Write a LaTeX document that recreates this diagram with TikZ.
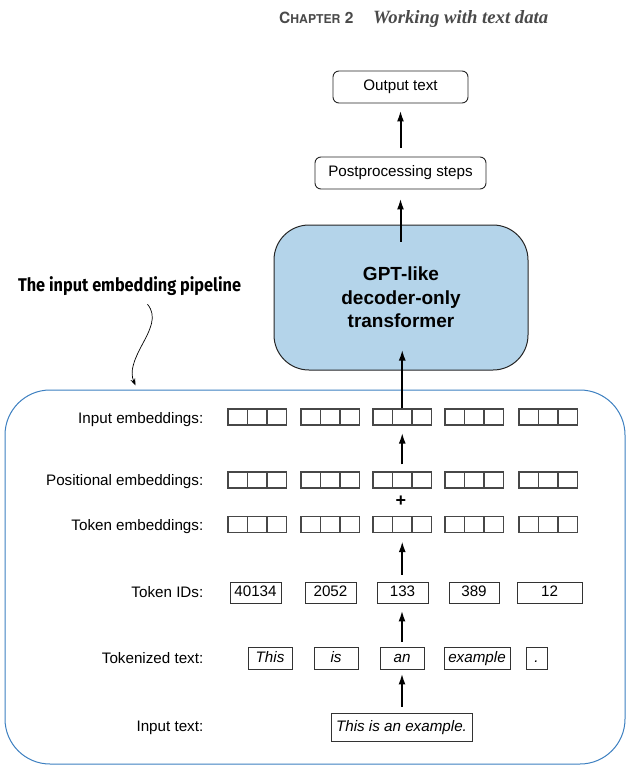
\documentclass[tikz,border=0pt]{standalone}
\usepackage{fontspec}
\setmainfont{Liberation Sans}
\newfontfamily\herosfont{TeX Gyre Heros}
\newfontfamily\serifitfont{Liberation Serif}
\newfontfamily\firafont{Fira Sans}
\usetikzlibrary{arrows.meta}
\definecolor{tfblue}{HTML}{B4D4EA}
\definecolor{pipeblue}{HTML}{3C7FC0}
\definecolor{hdrgray}{HTML}{4A4A4A}
\begin{document}
\begin{tikzpicture}[x=1pt,y=-1pt,
  lbl/.style={anchor=base east, inner sep=0pt, font=\fontsize{15.2}{17}\selectfont},
  cell/.style={draw=black!72, line width=1.2pt, minimum width=19.5pt, minimum height=16pt, inner sep=0pt},
  idbox/.style={draw=black!80, line width=0.9pt, minimum height=21pt, inner sep=0pt, text height=11pt, text depth=3pt, font=\fontsize{15.2}{17}\selectfont},
  wordbox/.style={draw=black!80, line width=0.9pt, minimum height=22pt, inner sep=0pt, text height=11pt, text depth=3pt, font=\fontsize{15.2}{17}\selectfont\itshape},
  rbox/.style={draw=black!85, line width=0.9pt, rounded corners=6pt, minimum height=32pt, inner sep=0pt, font=\fontsize{15.2}{17}\selectfont},
  flow/.style={line width=2pt, -{Latex[length=11pt,width=7pt]}}
]
\useasboundingbox (0,0) rectangle (637,782);

% header
\node[anchor=base west, inner sep=0pt, text=hdrgray] (hdr) at (279,23.5)
  {\herosfont\bfseries\fontsize{15.5}{17}\selectfont C\fontsize{12.2}{14}\selectfont HAPTER\fontsize{15.5}{17}\selectfont\ 2};
\node[anchor=base west, inner sep=0pt, text=hdrgray] (hdrt) at (373,23.5)
  {\resizebox{175pt}{!}{\serifitfont\bfseries\itshape\fontsize{17}{20}\selectfont Working with text data}};

% outer pipeline box
\node[draw=pipeblue, line width=1pt, rounded corners=45pt, minimum width=620pt, minimum height=374pt, inner sep=0pt] (pipe) at (315,577) {};

% title and curly arrow
\node[inner sep=0pt, anchor=base] (title) at (129.5,291)
  {\resizebox*{223pt}{19pt}{\firafont\bfseries The input embedding pipeline}};
\coordinate (cstart) at ([xshift=18pt,yshift=-9pt]title.south);
\coordinate (cend) at ([xshift=131pt,yshift=4pt]pipe.north west);
\draw[line width=0.7pt, -{Stealth[length=7pt,width=5pt]}] (cstart)
  .. controls +(10,12) and +(8,-15) .. (142,345)
  .. controls +(-8,15) and +(-6,-14) .. (cend);

% top part
\node[rbox, minimum width=135pt] (out) at (400.5,87) {Output text};
\node[rbox, minimum width=171pt] (pp) at (400.5,173) {Postprocessing steps};
\node[draw=black!85, line width=1pt, fill=tfblue, rounded corners=35pt, minimum width=254pt, minimum height=145pt, align=center, inner sep=0pt,
  font=\bfseries\fontsize{19}{23.5}\selectfont] (tr) at (401,297.5) {GPT-like\\decoder-only\\transformer};

% labels
\node[lbl] (l1) at (203.5,423.5) {Input embeddings:};
\node[lbl] (l2) at (203.5,485.5) {Positional embeddings:};
\node[lbl] (l3) at (203.5,530) {Token embeddings:};
\node[lbl] (l4) at (203.5,597.5) {Token IDs:};
\node[lbl] (l5) at (203.5,663) {Tokenized text:};
\node[lbl] (l6) at (203.5,731.5) {Input text:};

% embedding cells
\foreach \r/\y in {ie/417, pe/480, te/524.5}{
  \foreach \g/\x in {1/228,2/301,3/373,4/445,5/519}{
    \foreach \k in {1,2,3}{
      \node[cell] (\r-\g-\k) at ({\x+9.75+19.5*(\k-1)},\y) {};
    }
  }
}
\node[inner sep=0pt, font=\bfseries\fontsize{18}{20}\selectfont] (plus) at (401,501.5) {+};

% token ids
\node[idbox, minimum width=51pt] (id1) at (255.5,592.5) {40134};
\node[idbox, minimum width=51pt] (id2) at (330.5,592.5) {2052};
\node[idbox, minimum width=51pt] (id3) at (402.5,592.5) {133};
\node[idbox, minimum width=50pt] (id4) at (474,592.5) {389};
\node[idbox, minimum width=65pt] (id5) at (549.5,592.5) {12};

% tokenized text
\node[wordbox, minimum width=44pt] (w1) at (270,658) {This};
\node[wordbox, minimum width=44pt] (w2) at (336,658) {is};
\node[wordbox, minimum width=44pt] (w3) at (402,658) {an};
\node[wordbox, minimum width=66pt] (w4) at (477,658) {example};
\node[wordbox, minimum width=21pt] (w5) at (536.5,658) {.};

% input text
\node[wordbox, minimum width=141pt, minimum height=28pt] (in) at (401.5,727) {This is an example.};

% arrows
\draw[flow, shorten <=6pt, shorten >=4pt] (in.north -| w3.south) -- (w3.south);
\draw[flow, shorten <=5pt, shorten >=7pt] (w3.north) -- (w3.north |- id3.south);
\draw[flow, shorten <=7pt, shorten >=8pt] (id3.north -| te-3-2.south) -- (te-3-2.south);
\draw[flow, shorten <=7pt, shorten >=7pt] (pe-3-2.north) -- (ie-3-2.south);
\draw[flow] (ie-3-2.north) -- ([yshift=21pt]tr.south -| ie-3-2.north);
\draw[flow, shorten >=9pt] ([yshift=-17pt]tr.north -| pp.south) -- (pp.south);
\draw[flow, shorten <=9pt, shorten >=7pt] (pp.north) -- (out.south);
\end{tikzpicture}
\end{document}
